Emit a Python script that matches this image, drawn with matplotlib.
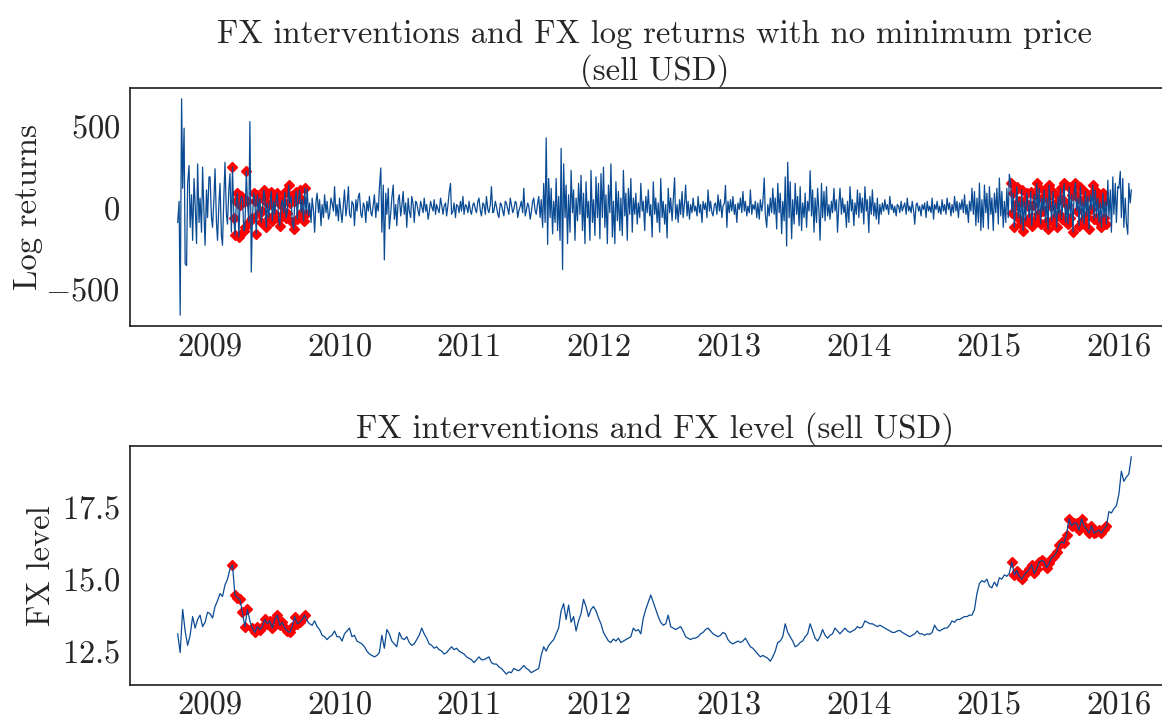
import matplotlib
matplotlib.use('Agg')
import matplotlib.pyplot as plt
import matplotlib.dates as mdates
from matplotlib.ticker import MultipleLocator
import numpy as np
import pandas as pd

# weekly (Friday) readings of the USD/MXN level, one list per year
level_2008 = [13.1, 12.45, 13.95, 13.2, 12.7, 13.05, 13.7, 13.3, 13.6, 13.75, 13.35, 13.5, 13.85]
level_2009 = [13.8, 13.65, 14.05, 14.25, 14.5, 14.4, 14.8, 15.0, 15.35, 15.5, 14.45, 14.35, 14.3,
              13.85, 13.35, 13.95, 13.55, 13.3, 13.15, 13.35, 13.25, 13.35, 13.6, 13.45, 13.55, 13.3,
              13.6, 13.75, 13.4, 13.5, 13.3, 13.2, 13.15, 13.35, 13.7, 13.45, 13.5, 13.6, 13.75,
              13.55, 13.45, 13.4, 13.55, 13.35, 13.25, 13.05, 13.0, 12.9, 13.0, 13.05, 13.2, 13.0]
level_2010 = [13.0, 12.85, 13.1, 13.2, 13.3, 13.0, 13.05, 12.85, 12.8, 12.75, 12.65, 12.5, 12.4,
              12.35, 12.3, 12.35, 12.45, 13.05, 12.6, 13.25, 13.1, 12.85, 12.75, 12.65, 13.15, 12.95,
              12.9, 13.0, 12.8, 12.7, 12.75, 12.9, 13.05, 13.3, 13.1, 12.95, 12.75, 12.7, 12.6,
              12.65, 12.55, 12.5, 12.4, 12.45, 12.55, 12.65, 12.55, 12.6, 12.5, 12.45, 12.4, 12.3, 12.25]
level_2011 = [12.2, 12.1, 12.2, 12.3, 12.2, 12.2, 12.25, 12.3, 12.1, 12.05, 12.05, 11.95, 11.9,
              11.8, 11.7, 11.78, 11.75, 11.9, 11.85, 11.82, 11.9, 12.0, 11.9, 11.85, 11.75, 11.8,
              11.85, 11.9, 12.35, 12.65, 12.5, 12.7, 12.8, 12.9, 13.1, 13.3, 13.9, 14.15, 13.6,
              14.1, 13.5, 13.7, 13.2, 13.55, 13.8, 14.3, 14.05, 13.7, 13.95, 14.05, 13.9, 13.65]
level_2012 = [13.45, 13.15, 13.0, 12.85, 12.8, 12.92, 12.85, 12.95, 12.8, 12.85, 12.9, 12.95, 13.0,
              13.3, 13.2, 13.25, 13.1, 13.65, 13.95, 14.2, 14.45, 14.2, 13.95, 13.7, 13.5, 13.4,
              13.45, 13.75, 13.35, 13.3, 13.25, 13.3, 13.35, 13.2, 13.0, 12.95, 12.9, 12.95, 12.95,
              13.0, 13.1, 13.15, 13.25, 13.3, 13.2, 13.1, 13.05, 13.0, 13.05, 13.15, 13.1, 12.9]
level_2013 = [12.8, 12.75, 12.8, 12.85, 12.8, 12.85, 12.95, 12.8, 12.65, 12.6, 12.5, 12.4, 12.3,
              12.35, 12.3, 12.25, 12.15, 12.3, 12.5, 12.8, 12.85, 13.0, 13.45, 13.15, 13.0, 12.85,
              12.65, 12.7, 12.8, 12.85, 13.0, 13.1, 13.45, 13.2, 12.95, 12.85, 13.0, 13.25, 13.05,
              12.95, 13.05, 13.1, 13.3, 13.2, 13.1, 13.2, 13.3, 13.2, 13.15, 13.2, 13.25, 13.35]
level_2014 = [13.3, 13.35, 13.55, 13.5, 13.45, 13.45, 13.4, 13.35, 13.4, 13.35, 13.3, 13.25, 13.2,
              13.15, 13.15, 13.2, 13.22, 13.15, 13.1, 13.05, 13.0, 13.05, 13.1, 13.2, 13.1, 13.1,
              13.05, 13.1, 13.08, 13.15, 13.4, 13.25, 13.2, 13.25, 13.3, 13.3, 13.4, 13.55, 13.5,
              13.6, 13.6, 13.65, 13.7, 13.7, 13.75, 13.75, 13.95, 14.5, 14.85, 14.95, 14.9, 15.0]
level_2015 = [14.75, 14.7, 14.9, 14.75, 15.05, 15.0, 15.15, 15.1, 15.2, 15.6, 15.15, 15.3, 15.1,
              15.0, 15.15, 15.25, 15.35, 15.5, 15.2, 15.35, 15.6, 15.65, 15.6, 15.4, 15.55, 15.75,
              15.8, 15.95, 16.2, 16.3, 16.25, 16.55, 17.1, 16.85, 16.95, 16.95, 16.7, 17.1, 16.85,
              16.75, 16.6, 16.85, 16.6, 16.65, 16.7, 16.6, 16.75, 16.85, 17.35, 17.3, 17.45, 17.55]
level_2016 = [17.95, 18.75, 18.4, 18.55, 18.65, 19.25]

# log returns (basis points), read twice a week (Friday, then Tuesday)
ret_2008 = [-90, 40, -660, 670, 120, 490, -345, -355, 150, 260, -120, 80, -200, 180,
            30, -220, 270, -90, 60, -150, 250, -40, -230, 110, -60, 190]
ret_2009 = [190, -60, -120, 60, 240, -90, -200, 30, 150, -170,
            -230, 80, 280, -40, -100, 120, 210, -150,
            250, -60, -170, 40, 90, -180, 20, 70, 60, -140,
            -120, 225, 40, -90, 530, -395, -60, 90, 40, -160,
            80, -30, 60, -90, -20, 110, 70, -120, 30, -60,
            25, 100, -80, 40, -40, 60, 90, -70, -110, 15,
            50, -30, 95, -60, -30, 140, 30, 70, -90, -130,
            40, 100, -70, 60, 110, -30, 50, -80, 120, -40,
            120, -50, 30, -90, 60, -20, -150, 40, 90, -30,
            50, -110, 20, -60, 80, -30, 40, -70, -40, 60,
            30, -20, 130, -50, 20, -80]
ret_2010 = [60, -30, -90, 20, 110, -50, 10, 130, -40, -60,
            40, 20, -110, 50, -20, 70, 90, -40, -60, 30,
            10, -90, 40, -20, 70, -30, -50, 20, 80, -60,
            30, -20, 120, 245, -150, 140, -320,
            90, -40, 120, -130, -30, 60, 140, -70, 20, -110,
            50, 80, -50, 10, 100, -40, 30, -120, 60, -20,
            -60, 70, 20, -90, 40,
            30, -20, -50, 40, 10, -30, 60, -20, 20, -70,
            -30, 40, 10, -20, 50, -40, 20, -10, -30, 60,
            20, -40, 10, 30, -50, 20, 90, 150, -40, -20,
            30, -60, 20, 10, -30, 40, -20, 70, -40, 20,
            10, -30, 40, -20]
ret_2011 = [-40, 20, 30, -10, -30, 40, 60, -20, -50, 30,
            20, -40, 70, -10, -30, 20, 130, -30, -20, 40,
            10, -40, -60, 30, 20, -20, -50, 40, 30, -10,
            -40, 60, 20, -30, -10, 40, 30, -60, -20, 10,
            40, -30, 120, -50, -20, 30, 10, -70, -30, 40,
            60, -20, -40, 30, 70, -60, 50, -120, 150, -90,
            430, -225,
            180, -60, 120, -160, 40, -90, 180, -140, 70, -200,
            365, -380,
            270, -60, 140, -220, 80, -150, 230, -30, 110, -200,
            60, -80, 150, -40, 200, -140, 90, -220, 160, -60,
            40, -200, 230, -90, 50, -170, 190, -60, 150, -190]
ret_2012 = [210, -60, 250, -120, 80, -220, 140, -30, 270, -180,
            40, -220, 160, -80, 100, -140, 60, -170, 230, -50,
            90, -200, 120, -40, 180, -150,
            60, -40, 90, -100, 30, -60, 150, -20, 40, -140,
            70, -30, 110, -50, 20, -180, 160, -40, 60, -90,
            30, -150, 180, -60, 40, -100, 20, -185, 120, -30,
            60, -80, 40, 185, -70, 20, -90, 50, -40, 100,
            -60, 30, 140, -50,
            40, -70, 20, -30, 60, -20, 10, -50, 70, -30,
            20, -90, 40, -10, 30, -60, 110, -20, 40, -30,
            -50, 20, 30, -40, 80, -20, 50, -60, 10, 30,
            138, -120, 40, -30]
ret_2013 = [50, -20, 70, -40, 20, -90, 30, -10, 60, -30,
            100, -20, 40, -50, 10, -30, 110, -40, 20, -10,
            40, -60, 30, -70, 50, -20, 30, 183, -40, -120,
            20, -50, 60, -30,
            120, -40, 60, -130, 150, -30, 90, -160, 40, -80,
            190, -235, 280, -60, 160, -190, 50, -100, 150, -40,
            70, -110, 130, -140, 30, -60, 90, -120, 40, -20,
            228, -50, 110, -150, 60, -90, 120, -30, -199, 150,
            -60, 100, -80,
            130, -50, 20, -70, 40, -30, 120, -20, 50, -150,
            30, 120, -40, 60, -30, 20, -120, 40, -90, 130,
            -20, 50, -110, 30, -40, 110, -60]
ret_2014 = [90, -30, 60, -100, 130, -20, 50, -152, 70, -40,
            110, -50, 30, -70, 60, -100, 20, -40,
            30, -20, 50, -10, 20, -40, 70, -10, 20, -30,
            10, -50, 20, 10, -30, 40, -20, 10, 30, -40,
            60, -20, 10, -30, 40, -20, -101, 20, 30, -20,
            10, -50, 20, -10, 30, -60, 40, -20, 10, -30,
            60, -70, 20, -10, 40, -30, 10, -40, 50, -20,
            20, -40, 60, -10, 30, -50, 20, -30, 70, -20,
            40, -60, 30, -10, 50, -30, 80, -40, 20, -90,
            40, -20,
            120, -40, 100, -110, 60, -90, 152, -140, 50, -120,
            140, -30, 90, -130]
ret_2015 = [130, -40, 60, -140, 90, -30, 120, -100, 183, -50,
            100, -120, 40, -90, 120, -60, 207,
            150, -30, 90, -120, 20, 130, -60, 40, -100, 110,
            -140, 40, -80, 90, 10, -60, 100, -110, 20, 80,
            -70, 150, -40, 120, -100, 60, -20, 110, -90, 60,
            -130, 140, 10, -80, 100, -60, 30, -120, 70, -40,
            120, -70, 50, 150, -90, 20, -100, 130, -60, 80,
            -150, 90, 155, -20, 60, -110, 130, -80, 40, -100,
            100, -50, 70, -130, 80, -10, 140, -70, 110, -60,
            60, -90, 30, -120, 90, -60, 40, -100,
            170, -60, 110, -150, 190, -40, 150, -90, 130]
ret_2016 = [120, 224, -60, 180, -120, 60, -90, -163, 150, 30, 110]

segment_starts = ['2008-10-03', '2009-01-02', '2010-01-01', '2011-01-07', '2012-01-06',
                  '2013-01-04', '2014-01-03', '2015-01-02', '2016-01-01']
levels = [level_2008, level_2009, level_2010, level_2011, level_2012,
          level_2013, level_2014, level_2015, level_2016]
returns = [ret_2008, ret_2009, ret_2010, ret_2011, ret_2012,
           ret_2013, ret_2014, ret_2015, ret_2016]

# sell-USD auctions with no minimum price
intervention_windows = [('2009-03-06', '2009-09-29'), ('2015-03-03', '2015-11-27')]
no_auction_days = ['2009-04-24', '2009-04-28']

tue_fri = pd.offsets.CustomBusinessDay(weekmask='Tue Fri')
lev_parts, ret_parts = [], []
for start, lv, rt in zip(segment_starts, levels, returns):
  lev_parts.append(pd.Series(lv, index=pd.date_range(start, periods=len(lv), freq='W-FRI')))
  ret_parts.append(pd.Series(rt, index=pd.date_range(start, periods=len(rt), freq=tue_fri)))
level = pd.concat(lev_parts)
ret = pd.concat(ret_parts)


def intervention_mask(idx):
  m = np.zeros(len(idx), dtype=bool)
  for a, b in intervention_windows:
    m |= (idx >= a) & (idx <= b)
  return m & ~idx.isin(pd.to_datetime(no_auction_days))


ret_iv = ret[intervention_mask(ret.index)]
level_iv = level[intervention_mask(level.index)]

plt.rcParams['font.family'] = 'cmr10'
plt.rcParams['mathtext.fontset'] = 'cm'
plt.rcParams['axes.formatter.use_mathtext'] = True
plt.rcParams['text.color'] = '.15'
plt.rcParams['xtick.color'] = '.15'
plt.rcParams['ytick.color'] = '.15'
plt.rcParams['axes.labelcolor'] = '.15'
plt.rcParams['axes.edgecolor'] = '.15'
plt.rcParams['axes.linewidth'] = 1.25

blue = '#0a4b94'
fs = 23.5

fig = plt.figure(figsize=(11.62, 7.19), dpi=100)
W, H = 1162, 719
ax1 = fig.add_axes([130 / W, 1 - 326 / H, (1179 - 130) / W, (326 - 88) / H])
ax2 = fig.add_axes([130 / W, 1 - 685 / H, (1179 - 130) / W, (685 - 446) / H])

ax1.plot(ret_iv.index, ret_iv.values, 'D', color='red', markersize=5.5, zorder=1)
ax1.plot(ret.index, ret.values, color=blue, linewidth=0.9, zorder=2)
ax1.set_title('FX interventions and FX log returns with no minimum price\n(sell USD)',
              fontsize=fs, pad=6, linespacing=1.2)
ax1.set_ylabel('Log returns', fontsize=fs, labelpad=2)
ax1.yaxis.set_major_locator(MultipleLocator(500))

ax2.plot(level_iv.index, level_iv.values, 'D', color='red', markersize=5.5, zorder=1)
ax2.plot(level.index, level.values, color=blue, linewidth=0.9, zorder=2)
ax2.set_title('FX interventions and FX level (sell USD)', fontsize=fs, pad=6)
ax2.set_ylabel('FX level', fontsize=fs, labelpad=4)
ax2.yaxis.set_major_locator(MultipleLocator(2.5))

for ax in (ax1, ax2):
  ax.xaxis.set_major_locator(mdates.YearLocator())
  ax.xaxis.set_major_formatter(mdates.DateFormatter('%Y'))
  ax.tick_params(left=False, bottom=False, labelsize=fs)
  ax.margins(x=0.05)
ax1.tick_params(axis='x', pad=2)
ax2.tick_params(axis='x', pad=1)

fig.savefig('out.png', dpi=100)
